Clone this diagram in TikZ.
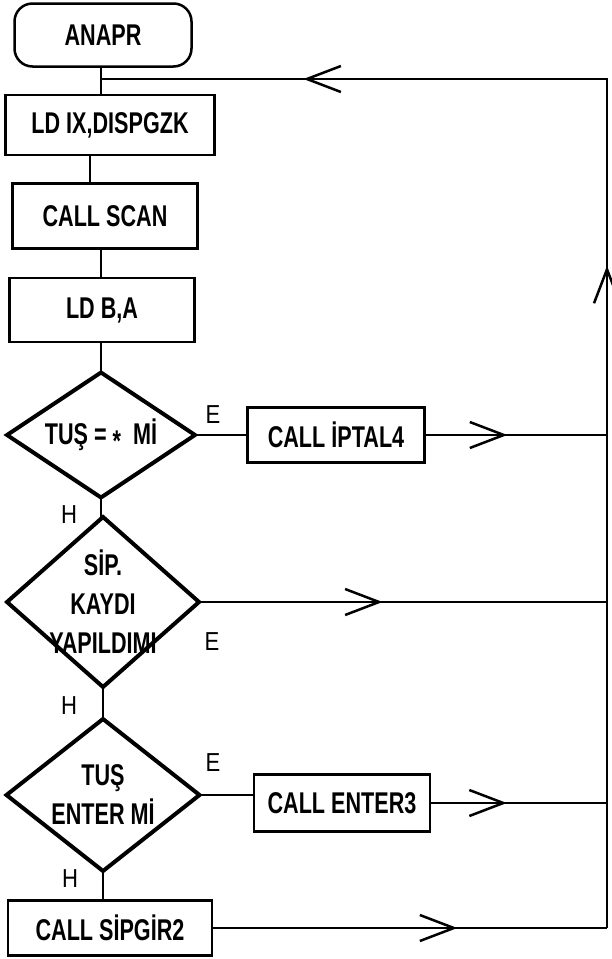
\documentclass[tikz,border=0pt]{standalone}
\usepackage{fontspec}
\setmainfont{Liberation Sans}
\newfontfamily\boxfont[FakeStretch=0.72]{Liberation Sans Bold}
\newfontfamily\lblfont[FakeStretch=0.85]{Liberation Sans}
\usetikzlibrary{shapes.geometric,arrows.meta,decorations.markings}
\begin{document}
\begin{tikzpicture}[x=1pt,y=-1pt,
  every node/.style={inner sep=0pt, align=center, font=\boxfont\fontsize{30}{39}\selectfont},
  procbox/.style={draw, line width=2.5pt, rectangle},
  termbox/.style={draw, line width=2.5pt, rectangle, rounded corners=18pt},
  decision/.style={draw, line width=4pt, diamond, inner sep=0pt, outer sep=0pt},
  conn/.style={line width=2.5pt},
  lbl/.style={font=\lblfont\fontsize{26}{30}\selectfont},
  midarrow/.style={postaction={decorate}, decoration={markings,
    mark=at position #1 with {\arrow{Straight Barb[length=34pt,width=26pt,line width=2.5pt]}}}}
]
\useasboundingbox (0,0) rectangle (611,959);
\fill[white] (0,0) rectangle (611,959);

% nodes
\node[termbox, minimum width=177pt, minimum height=63pt] (start) at (103,35) {ANAPR};
\node[procbox, minimum width=209pt, minimum height=60pt] (ldix) at (110,125) {LD IX,DISPGZK};
\node[procbox, minimum width=185pt, minimum height=65pt] (scan) at (105,216) {CALL SCAN};
\node[procbox, minimum width=185pt, minimum height=64pt] (ldba) at (102,310) {LD B,A};
\node[decision, minimum width=188pt, minimum height=125pt,
  label={center:TUŞ = \raisebox{-0.22em}{*}\ \ Mİ}] (d1) at (101,435) {};
\node[procbox, minimum width=177pt, minimum height=55pt] (iptal) at (336,435) {CALL İPTAL4};
\node[decision, minimum width=192pt, minimum height=170pt,
  label={center:SİP.\\KAYDI\\YAPILDIMI}] (d2) at (103,602) {};
\node[decision, minimum width=193pt, minimum height=152pt,
  label={center:TUŞ\\ENTER Mİ}] (d3) at (103,795) {};
\node[procbox, minimum width=176pt, minimum height=57pt] (enter) at (342,803) {CALL ENTER3};
\node[procbox, minimum width=204pt, minimum height=55pt] (sipgir) at (110,928) {CALL SİPGİR2};

% labels
\node[lbl] (e1) at (213,415) {E};
\node[lbl] (e2) at (212,642) {E};
\node[lbl] (e3) at (213,763) {E};
\node[lbl] (h1) at (69,515) {H};
\node[lbl] (h2) at (69,706) {H};
\node[lbl] (h3) at (70,879) {H};

% junction coordinates
\coordinate (j0) at (101,79);
\coordinate (rx) at (607,79);

% straight connectors
\draw[conn] (start.south -| j0) -- (j0 |- ldix.north);
\draw[conn] (90,155) coordinate (a1) -- (a1 |- scan.north);
\draw[conn] (101,248) coordinate (a2) -- (a2 |- ldba.north);
\draw[conn] (d1.north) -- (d1.north |- ldba.south);
\draw[conn] (d1.east) -- (iptal.west |- d1.east);
\draw[conn] (d1.south) -- (d1.south |- d2.north);
\draw[conn] (d2.south) -- (d2.south |- d3.north);
\draw[conn] (d3.east) -- (enter.west |- d3.east);
\draw[conn] (d3.south) -- (d3.south |- sipgir.north);

% flows to the right return line
\draw[conn, midarrow=0.45] (iptal.east) -- (iptal.east -| rx);
\draw[conn, midarrow=0.45] (d2.east) -- (d2.east -| rx);
\draw[conn, midarrow=0.43] (enter.east) -- (enter.east -| rx);
\draw[conn, midarrow=0.62] (sipgir.east) -- (sipgir.east -| rx);

% return line
\draw[conn, line join=miter] (sipgir.east -| rx) -- (rx) -- (j0);
\path[midarrow=0.78] (sipgir.east -| rx) -- (rx);
\path[midarrow=0.60] (rx) -- (j0);
\end{tikzpicture}
\end{document}
